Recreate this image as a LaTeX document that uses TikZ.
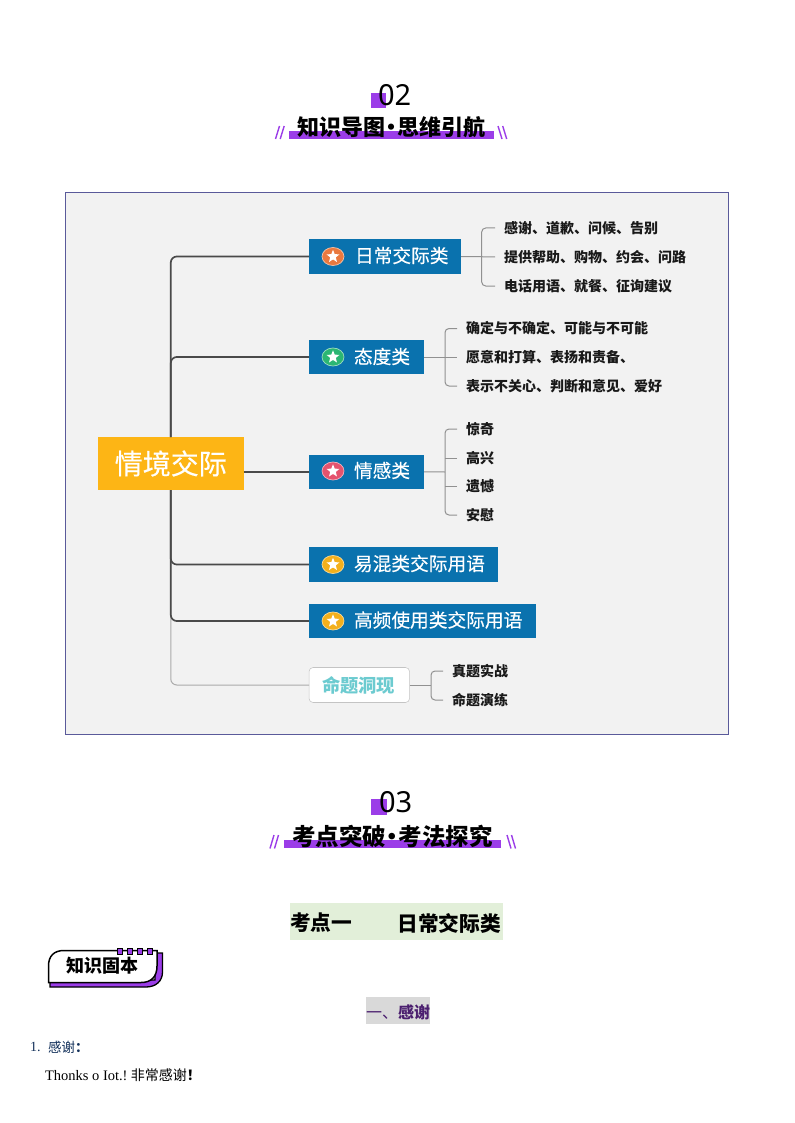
\documentclass[tikz,border=0pt]{standalone}
\usepackage{fontspec}
\setmainfont{Noto Sans CJK SC}
\newfontfamily\numfont{Noto Sans}
\newfontfamily\serifnum{Liberation Serif}
\newfontfamily\medcjk[FakeBold=0.35]{Noto Sans CJK SC}
\usetikzlibrary{shapes.geometric}
\definecolor{purp}{HTML}{9B3DE8}
\definecolor{panel}{HTML}{F2F2F2}
\definecolor{frame}{HTML}{5A5A9A}
\definecolor{blueb}{HTML}{0A72AE}
\definecolor{rootc}{HTML}{FDB515}
\definecolor{darkl}{HTML}{4A4A4A}
\definecolor{lightl}{HTML}{ABABAB}
\definecolor{teal}{HTML}{6CCBD0}
\definecolor{icorange}{HTML}{E9793F}
\definecolor{icgreen}{HTML}{2BB673}
\definecolor{icred}{HTML}{E5536E}
\definecolor{icyellow}{HTML}{F3B01C}
\definecolor{greenb}{HTML}{E2EFD9}
\definecolor{grayb}{HTML}{D9D9D9}
\definecolor{dpurple}{HTML}{4B1F6F}
\definecolor{navy}{HTML}{12305A}
\def\U{0.75pt}
\newcommand{\kjxFont}[1]{\fontsize{\fpeval{#1*0.75}pt}{\fpeval{#1*0.9}pt}\selectfont}
\tikzset{
  plain/.style={inner sep=0pt,outer sep=0pt},
  rootbox/.style={plain,fill=rootc,text=white,minimum width=145.5*\U,minimum height=53*\U,font=\medcjk\kjxFont{28}},
  branchbox/.style={plain,fill=blueb,minimum height=34.5*\U},
  branchtext/.style={plain,anchor=west,text=white,font=\medcjk\kjxFont{18.7}},
  leaftext/.style={plain,anchor=west,font=\kjxFont{14}\bfseries,text=black!90},
  trunk/.style={draw=darkl,line width=1.7*\U,rounded corners=6*\U},
  trunklight/.style={draw=lightl,line width=1*\U,rounded corners=6*\U},
  leafline/.style={draw=lightl!85!black,line width=1*\U,rounded corners=4*\U,shorten <=9*\U,shorten >=9*\U},
  midline/.style={draw=lightl!85!black,line width=1*\U,shorten >=9*\U},
  badge/.style={ellipse,plain,line width=0.7*\U,minimum width=22*\U,minimum height=18*\U},
  starmark/.style={star,star points=5,star point ratio=2.3,plain,fill=white,minimum size=13.5*\U},
  titletext/.style={plain,text=black},
  numtext/.style={plain,anchor=west,font=\numfont\kjxFont{29},text=black},
  slash/.style={draw=purp,line width=1.4*\U},
}
\newcommand{\kjxIcon}[3]{%
  \node[badge,fill=#3,draw=white!55!#3] (#1) at (333,#2) {};
  \node[starmark] at (#1) {};}
\begin{document}
\begin{tikzpicture}[x=0.75pt,y=-0.75pt]
\useasboundingbox (0,0) rectangle (794,1123);
\fill[white] (0,0) rectangle (794,1123);

% section 02
\fill[purp] (371,93) rectangle (386,108);
\node[numtext] (num2) at (378,95) {02};
\fill[purp] (289,131) rectangle (494,139);
\node[titletext,font=\kjxFont{22}\bfseries] (title2) at (391.5,127) {知识导图\hspace{-3.4pt}•\hspace{-3.4pt}思维引航};
\foreach \d in {0,4.7}{
  \draw[slash] (275.5+\d,139) -- (279.5+\d,126);
  \draw[slash] (502+\d,139) -- (498+\d,126);
}

% panel
\fill[panel] (65,192) rectangle (728,734);
\draw[frame,line width=0.8*\U] (65,192) rectangle (728,734);

% nodes
\node[rootbox] (root) at (170.8,463.5) {\raisebox{1pt}{情境交际}};
\node[branchbox,minimum width=152*\U] (b1) at (385,256.5) {};
\node[branchbox,minimum width=115*\U] (b2) at (366.5,357) {};
\node[branchbox,minimum width=115*\U] (b3) at (366.5,471.8) {};
\node[branchbox,minimum width=189.5*\U] (b4) at (403.7,564.5) {};
\node[branchbox,minimum width=227.5*\U] (b5) at (422.7,621) {};
\node[plain,draw=lightl!70,fill=white,rounded corners=4*\U,minimum width=100.5*\U,minimum height=35*\U] (b6) at (359.3,685) {};

\node[branchtext] (t1) at (355,255.5) {日常交际类};
\node[branchtext] (t2) at (354,356.5) {态度类};
\node[branchtext] (t3) at (354,470.5) {情感类};
\node[branchtext] (t4) at (354,563.5) {易混类交际用语};
\node[branchtext] (t5) at (354,620) {高频使用类交际用语};
\node[branchtext,text=teal,font=\kjxFont{18.3}\bfseries] (t6) at (322,685) {命题洞现};

\kjxIcon{ica}{256.5}{icorange}
\kjxIcon{icb}{357}{icgreen}
\kjxIcon{icc}{471}{icred}
\kjxIcon{icd}{564.5}{icyellow}
\kjxIcon{ice}{621}{icyellow}

\node[leaftext] (l11) at (504,228) {感谢、道歉、问候、告别};
\node[leaftext] (l12) at (504,257) {提供帮助、购物、约会、问路};
\node[leaftext] (l13) at (504,286) {电话用语、就餐、征询建议};
\node[leaftext] (l21) at (466,328.5) {确定与不确定、可能与不可能};
\node[leaftext] (l22) at (466,357) {愿意和打算、表扬和责备、};
\node[leaftext] (l23) at (466,386) {表示不关心、判断和意见、爱好};
\node[leaftext] (l31) at (466,429) {惊奇};
\node[leaftext] (l32) at (466,458) {高兴};
\node[leaftext] (l33) at (466,486.5) {遗憾};
\node[leaftext] (l34) at (466,515) {安慰};
\node[leaftext] (l41) at (452,671) {真题实战};
\node[leaftext] (l42) at (452,700) {命题演练};

% trunk connectors
\draw[trunklight] (root.south) |- (b6.west);
\draw[trunk] (root.north) |- (b1.west);
\draw[trunk] (root.north) |- (b2.west);
\draw[trunk,rounded corners=0pt] (root.east |- b3.west) -- (b3.west);
\draw[trunk] (root.south) |- (b4.west);
\draw[trunk] (root.south) |- (b5.west);

% leaf connectors
\coordinate (bus1) at (481.7,257);
\coordinate (bus2) at (445,357);
\coordinate (bus3) at (445,472);
\coordinate (bus4) at (431,685);
\draw[midline] (b1.east) -- (l12.west);
\draw[leafline] (l11.west) -- (bus1 |- l11.west) -- (bus1 |- l13.west) -- (l13.west);
\draw[midline] (b2.east) -- (l22.west);
\draw[leafline] (l21.west) -- (bus2 |- l21.west) -- (bus2 |- l23.west) -- (l23.west);
\draw[midline,shorten >=0pt] (b3.east) -- (bus3);
\draw[leafline] (l31.west) -- (bus3 |- l31.west) -- (bus3 |- l34.west) -- (l34.west);
\draw[leafline,shorten >=0pt] (l32.west) -- (bus3 |- l32.west);
\draw[leafline,shorten >=0pt] (l33.west) -- (bus3 |- l33.west);
\draw[midline,shorten >=0pt] (b6.east) -- (bus4);
\draw[leafline] (l41.west) -- (bus4 |- l41.west) -- (bus4 |- l42.west) -- (l42.west);

% section 03
\fill[purp] (371,799) rectangle (387,815);
\node[numtext] (num3) at (379,802) {03};
\fill[purp] (284,840) rectangle (501,848);
\node[titletext,font=\kjxFont{23.5}\bfseries] (title3) at (392.5,836) {考点突破\hspace{-4.3pt}•\hspace{-4.3pt}考法探究};
\foreach \d in {0,4.5}{
  \draw[slash] (270+\d,848.5) -- (274+\d,835);
  \draw[slash] (511+\d,848.5) -- (507+\d,835);
}

% heading
\fill[greenb] (290,903) rectangle (503,940);
\node[plain,anchor=west,font=\kjxFont{20.7}\bfseries] (h1) at (290,923) {考点一};
\node[plain,anchor=west,font=\kjxFont{20.7}\bfseries] (h2) at (397.5,923) {日常交际类};

% note badge
\fill[purp,draw=black,line width=1.3*\U]
  (50,980) -- (50,987) -- (146,987) .. controls (156,987) and (162.5,981) .. (162.5,972) -- (162.5,953) -- (155,953) -- (155,980) -- cycle;
\draw[black,fill=white,line width=1.5*\U]
  (48.5,982.5) -- (48.5,966) .. controls (48.5,956) and (54,950.5) .. (64,950.5)
  -- (157,950.5) -- (157,966) .. controls (157,977) and (151,982.5) .. (141,982.5) -- cycle;
\foreach \x in {120,130,140,150}
  \draw[black,fill=purp,line width=1*\U] (\x-2.8,948) rectangle (\x+2.8,954);
\node[plain,font=\kjxFont{18}\bfseries] (kb) at (102.5,966) {知识固本};

% sub-heading
\fill[grayb] (366,997) rectangle (430,1024);
\node[plain,anchor=west,font=\kjxFont{16},text=dpurple] (sh) at (366,1012) {一、\textbf{感谢}};

% body
\node[plain,anchor=west,font=\serifnum\kjxFont{14},text=navy] (n1) at (30,1047) {1.};
\node[plain,anchor=west,font=\kjxFont{13.5},text=navy] (n1t) at (48,1047) {感谢\textbf{：}};
\node[plain,anchor=west,font=\kjxFont{14}] (n2) at (45,1075) {{\serifnum\kjxFont{14.5}Thonks o Iot.!}\hspace{2.5pt}非常感谢\textbf{！}};
\end{tikzpicture}
\end{document}
